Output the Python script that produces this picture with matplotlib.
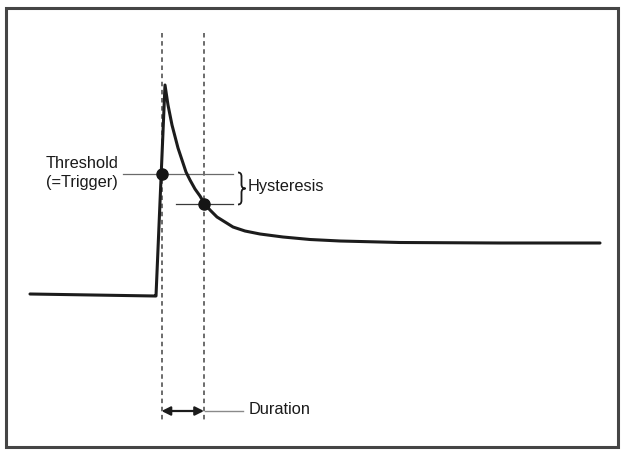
import matplotlib
matplotlib.use("Agg")
import matplotlib.pyplot as plt
from matplotlib.patches import Rectangle, PathPatch
from matplotlib.path import Path

# ---- data (pixel-like units, y downward) ----
signal_x = [30, 155, 156, 165, 168, 172, 178, 182, 186, 190, 195, 200, 204,
            210, 217, 225, 233, 245, 260, 283, 310, 340, 400, 500, 600]
signal_y = [294, 296, 296, 85, 105, 125, 148, 160, 172, 180, 189, 196, 203,
            210, 217, 222, 227, 231, 234, 237, 239.5, 241, 242.5, 243, 243]

trigger_x = 161.5
end_x = 204
threshold_y = 174
hysteresis_low_y = 204
duration_y = 411

labels_threshold = ["Threshold", "(=Trigger)"]
label_hysteresis = "Hysteresis"
label_duration = "Duration"

plt.rcParams['font.family'] = ['Liberation Sans', 'DejaVu Sans']

fig = plt.figure(figsize=(6.23, 4.51), dpi=100)
ax = fig.add_axes([0, 0, 1, 1])
ax.set_xlim(0, 623)
ax.set_ylim(451, 0)
ax.axis('off')

# frame
ax.add_patch(Rectangle((6, 8), 612, 439, fill=False, edgecolor='#454545', lw=2.2))

# dashed verticals
for xv in (trigger_x, end_x):
    ax.plot([xv, xv], [33, 422], color='#606060', lw=1.3, ls=(0, (2.5, 2.0)))

# threshold / hysteresis lines
ax.plot([123, 233], [threshold_y, threshold_y], color='#6a6a6a', lw=0.9)
ax.plot([176, 233], [hysteresis_low_y, hysteresis_low_y], color='#3a3a3a', lw=0.9)

# signal
ax.plot(signal_x, signal_y, color='#1c1c1c', lw=2.2, solid_joinstyle='round',
        solid_capstyle='round')

# dots
ax.plot([trigger_x, end_x], [threshold_y, hysteresis_low_y], 'o',
        color='#151515', ms=8)

# brace
verts = [(238, 172.5), (241.5, 172.5), (241.5, 176.5),
         (241.5, 184.5),
         (241.5, 188.5), (245.5, 188.5),
         (241.5, 188.5), (241.5, 192.5),
         (241.5, 200.5),
         (241.5, 204.5), (238, 204.5)]
codes = [Path.MOVETO, Path.CURVE3, Path.CURVE3,
         Path.LINETO,
         Path.CURVE3, Path.CURVE3,
         Path.CURVE3, Path.CURVE3,
         Path.LINETO,
         Path.CURVE3, Path.CURVE3]
ax.add_patch(PathPatch(Path(verts, codes), fill=False, edgecolor='#1a1a1a', lw=1.3))

# texts
ax.text(82, 163, labels_threshold[0], ha='center', va='center', fontsize=11.8, color='#1a1a1a')
ax.text(82, 183, labels_threshold[1], ha='center', va='center', fontsize=11.8, color='#1a1a1a')
ax.text(248, 186, label_hysteresis, ha='left', va='center', fontsize=11.8, color='#1a1a1a')
ax.text(249, 410, label_duration, ha='left', va='center', fontsize=11.8, color='#1a1a1a')

# duration arrow
ax.annotate('', xy=(end_x, duration_y), xytext=(trigger_x, duration_y),
            arrowprops=dict(arrowstyle='<|-|>', color='#1c1c1c', lw=1.6,
                            mutation_scale=13, shrinkA=0, shrinkB=0))
ax.plot([end_x + 1, 243], [duration_y, duration_y], color='#8a8a8a', lw=1.0)

fig.savefig('out.png', dpi=100)
